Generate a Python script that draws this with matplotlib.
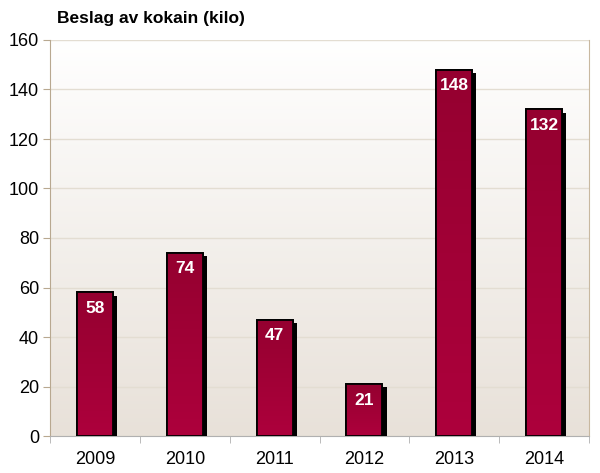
import numpy as np
import matplotlib.pyplot as plt
from matplotlib import patheffects as pe
from matplotlib.colors import LinearSegmentedColormap

plt.rcParams['font.family'] = ['Liberation Sans', 'DejaVu Sans']

years = ['2009', '2010', '2011', '2012', '2013', '2014']
kilo = [58, 74, 47, 21, 148, 132]

fig = plt.figure(figsize=(6, 4.73), dpi=100)
ax = fig.add_axes([50/600, 37/473, 539/600, 396/473])

x = np.arange(len(years))
ax.set_xlim(-0.5, len(years) - 0.5)
ax.set_ylim(0, 160)

# background gradient, white at top to beige at bottom
bg = LinearSegmentedColormap.from_list('bg', ['#e8e1d9', '#ffffff'])
ax.imshow(np.linspace(0, 1, 256).reshape(-1, 1), cmap=bg, origin='lower',
          extent=[-0.5, len(years) - 0.5, 0, 160], aspect='auto', zorder=0)

ax.yaxis.grid(True, color='#e3ddd2', linewidth=1, zorder=1)
ax.set_axisbelow(True)

bars = ax.bar(x, kilo, width=0.4, color='#9b0033', edgecolor='black',
              linewidth=1.3, zorder=3)
barcm = LinearSegmentedColormap.from_list('bar', ['#ad003c', '#950030'])
for b in bars:
    b.set_path_effects([pe.SimplePatchShadow(offset=(3, -2.5), shadow_rgbFace='black', alpha=1.0),
                        pe.Normal()])
    grad = ax.imshow(np.linspace(0, 1, 64).reshape(-1, 1), cmap=barcm, origin='lower',
                     extent=[b.get_x(), b.get_x() + b.get_width(), 0, b.get_height()],
                     aspect='auto', zorder=3.5)
    grad.set_clip_path(b)
    edge = plt.Rectangle((b.get_x(), 0), b.get_width(), b.get_height(), fill=False,
                         edgecolor='black', linewidth=1.3, zorder=4)
    ax.add_patch(edge)

for xi, v in zip(x, kilo):
    ax.text(xi, v - 6.5, str(v), ha='center', va='center', color='white',
            fontsize=12.5, fontweight='bold', zorder=5)

ax.set_xticks(x)
ax.set_xticklabels(years, fontsize=13)
ax.set_xticks(np.arange(-0.5, len(years)), minor=True)
ax.tick_params(axis='x', which='major', length=0, pad=11)
ax.tick_params(axis='x', which='minor', length=5, color='#b0b0b0')
ax.set_yticks(np.arange(0, 161, 20))
ax.tick_params(axis='y', labelsize=13, length=5, color='#b8a890', pad=3)

ax.spines['top'].set_visible(False)
ax.spines['left'].set_color('#b8a890')
ax.spines['right'].set_color('#c8b8a0')
ax.spines['bottom'].set_color('#b0b0b0')

fig.text(57/600, 1 - 18/473, 'Beslag av kokain (kilo)', fontsize=12.5,
         fontweight='bold', ha='left', va='center')

fig.savefig('out.png', dpi=100)
